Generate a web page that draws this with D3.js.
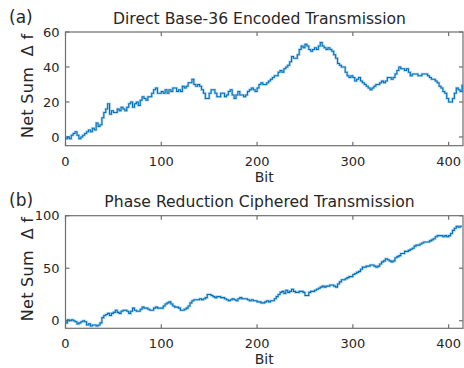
<!DOCTYPE html>
<html>
<head>
<meta charset="utf-8">
<script src="https://cdn.jsdelivr.net/npm/d3@7"></script>
<style>
  html, body { margin: 0; padding: 0; background: #fff; }
  svg { display: block; }
  text { font-family: "DejaVu Sans", sans-serif; fill: #262626; white-space: pre; }
</style>
</head>
<body>
<svg id="chart" width="464" height="368"></svg>
<script>
// Sampling interval (bits) of the stored series
const bitStep = 2;
const xTicks = [0, 100, 200, 300, 400];
const xMax = 415;

// (a) Direct Base-36 encoded transmission: running net sum of Δf
const directSum = [
  -1, 0, -1, 1, 2, 3, 1, -1, 0, 1, 2, 3, 4, 3, 5, 4, 8, 6, 7, 11,
  14, 16, 19, 13, 15, 14, 14, 16, 15, 17, 16, 15, 17, 19, 20, 17, 19, 20, 18, 21,
  23, 22, 21, 23, 23, 25, 27, 28, 25, 25, 26, 25, 27, 25, 27, 26, 28, 28, 26, 27,
  26, 29, 28, 29, 31, 31, 33, 30, 29, 30, 29, 27, 25, 22, 22, 25, 27, 27, 25, 23,
  23, 25, 25, 23, 24, 26, 27, 24, 22, 24, 26, 24, 24, 23, 24, 26, 27, 28, 27, 26,
  28, 30, 31, 30, 30, 31, 32, 33, 34, 35, 35, 37, 38, 37, 39, 40, 41, 43, 46, 45,
  45, 47, 50, 52, 51, 53, 52, 50, 49, 50, 51, 50, 52, 54, 52, 51, 50, 51, 50, 49,
  47, 45, 42, 41, 40, 40, 37, 35, 34, 35, 34, 32, 33, 34, 32, 31, 30, 29, 28, 27,
  28, 29, 30, 30, 31, 32, 31, 32, 34, 34, 33, 34, 36, 38, 40, 39, 39, 38, 39, 37,
  35, 36, 36, 36, 35, 35, 36, 36, 36, 35, 34, 33, 33, 32, 31, 29, 28, 26, 25, 22,
  20, 20, 22, 25, 28, 27, 26, 30
];
const directTicks = [0, 20, 40, 60];

// (b) Phase reduction ciphered transmission: running net sum of Δf
const cipheredSum = [
  -2, 1, 0, 1, 0, -1, -3, -2, -1, 0, -1, -4, -3, -5, -4, -4, -5, -4, -2, 3,
  5, 6, 7, 5, 7, 8, 10, 8, 7, 9, 10, 10, 9, 7, 9, 12, 10, 9, 9, 11,
  13, 12, 12, 11, 10, 10, 12, 13, 12, 12, 12, 14, 16, 17, 18, 16, 14, 13, 13, 12,
  10, 10, 11, 12, 14, 17, 19, 20, 20, 20, 21, 20, 21, 22, 25, 25, 24, 23, 22, 23,
  23, 22, 22, 21, 20, 19, 20, 21, 20, 19, 21, 22, 21, 21, 21, 20, 19, 20, 19, 19,
  18, 18, 17, 17, 18, 19, 18, 19, 19, 21, 23, 25, 27, 28, 26, 29, 27, 28, 30, 28,
  27, 27, 28, 28, 27, 24, 24, 27, 28, 28, 29, 30, 31, 32, 33, 32, 33, 33, 34, 34,
  33, 32, 35, 37, 39, 39, 40, 41, 42, 42, 44, 45, 46, 47, 49, 51, 51, 52, 52, 53,
  53, 52, 51, 52, 54, 56, 57, 59, 58, 57, 56, 57, 60, 61, 62, 64, 64, 66, 66, 67,
  68, 69, 71, 72, 72, 73, 74, 75, 75, 75, 76, 77, 78, 80, 81, 81, 81, 80, 81, 80,
  81, 83, 86, 88, 90, 89, 90, 90
];
const cipheredTicks = [0, 50, 100];

const svg = d3.select("#chart");
const lineColor = "#0072BD";
const axisColor = "#6f6f6f";

function panel(cfg) {
  const x = d3.scaleLinear().domain([0, xMax]).range([65.5, 463]);
  const y = d3.scaleLinear().domain(cfg.yDomain).range([cfg.bottom, cfg.top]);
  const g = svg.append("g");

  const tickLen = 4;
  const ax = g.append("g").attr("stroke", axisColor).attr("fill", "none").attr("stroke-width", 1.2);

  // box
  ax.append("rect")
    .attr("x", x(0)).attr("y", y(cfg.yDomain[1]))
    .attr("width", x(xMax) - x(0)).attr("height", y(cfg.yDomain[0]) - y(cfg.yDomain[1]));

  // inward ticks on all four sides
  xTicks.forEach(t => {
    ax.append("line").attr("x1", x(t)).attr("x2", x(t)).attr("y1", cfg.bottom).attr("y2", cfg.bottom - tickLen);
    ax.append("line").attr("x1", x(t)).attr("x2", x(t)).attr("y1", cfg.top).attr("y2", cfg.top + tickLen);
  });
  cfg.ticks.forEach(t => {
    ax.append("line").attr("x1", x(0)).attr("x2", x(0) + tickLen).attr("y1", y(t)).attr("y2", y(t));
    ax.append("line").attr("x1", x(xMax)).attr("x2", x(xMax) - tickLen).attr("y1", y(t)).attr("y2", y(t));
  });

  // tick labels
  g.selectAll(".xt").data(xTicks).join("text")
    .attr("x", d => x(d)).attr("y", cfg.bottom + 20)
    .attr("text-anchor", "middle").attr("font-size", 13).text(d => d);
  g.selectAll(".yt").data(cfg.ticks).join("text")
    .attr("x", x(0) - 6).attr("y", d => y(d)).attr("dy", "0.36em")
    .attr("text-anchor", "end").attr("font-size", 13).text(d => d);

  // data line
  const line = d3.line()
    .x((d, i) => x(i * bitStep))
    .y(d => y(d))
    .curve(d3.curveStepAfter);
  g.append("path").datum(cfg.values)
    .attr("fill", "none").attr("stroke", lineColor).attr("stroke-opacity", 0.3)
    .attr("stroke-width", 2.6).attr("d", line);
  g.append("path").datum(cfg.values)
    .attr("fill", "none").attr("stroke", lineColor)
    .attr("stroke-width", 1.1).attr("d", line);

  // titles and labels
  g.append("text").attr("x", 259.5).attr("y", cfg.titleY)
    .attr("text-anchor", "middle").attr("font-size", 15.6).text(cfg.title);
  g.append("text").attr("x", 9).attr("y", cfg.titleY - 1)
    .attr("font-size", 17).text(cfg.tag);
  g.append("text").attr("x", (x(0) + x(xMax)) / 2).attr("y", cfg.bottom + 36)
    .attr("text-anchor", "middle").attr("font-size", 14).text("Bit");
  g.append("text")
    .attr("transform", `translate(33,${(cfg.top + cfg.bottom) / 2 - 3}) rotate(-90)`)
    .attr("text-anchor", "middle").attr("font-size", 16).attr("letter-spacing", 0.3)
    .text("Net Sum  \u0394 f");
}

panel({
  values: directSum, yDomain: [-5, 60], ticks: directTicks,
  top: 32, bottom: 145.7, titleY: 24,
  title: "Direct Base-36 Encoded Transmission", tag: "(a)"
});
panel({
  values: cipheredSum, yDomain: [-7.2, 100], ticks: cipheredTicks,
  top: 215.7, bottom: 328.3, titleY: 207,
  title: "Phase Reduction Ciphered Transmission", tag: "(b)"
});
</script>
</body>
</html>
